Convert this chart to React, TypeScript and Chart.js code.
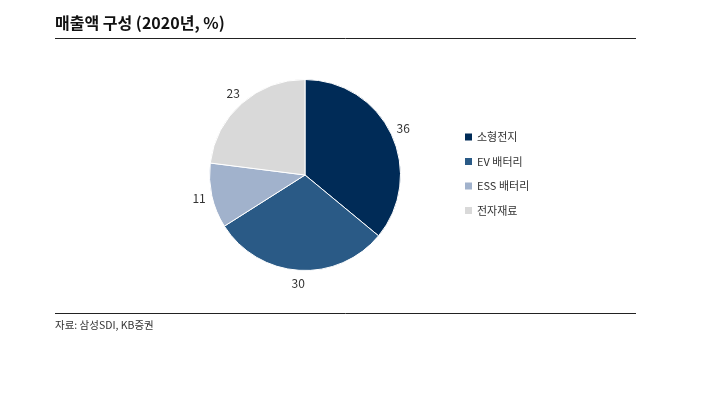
import React, { useEffect, useRef } from "react";
import { Chart, registerables } from "chart.js";

Chart.register(...registerables);

const categories = ["소형전지", "EV 배터리", "ESS 배터리", "전자재료"];
const values = [36, 30, 11, 23];
const colors = ["#002B57", "#2A5A86", "#A1B2CC", "#D9D9D9"];
const titleText = "매출액 구성 (2020년, %)";
const sourceText = "자료: 삼성SDI, KB증권";

const FONT = "'Noto Sans CJK KR', 'Noto Sans', sans-serif";

const decor = {
  id: "decor",
  afterDraw(chart: any) {
    const ctx = chart.ctx as CanvasRenderingContext2D;
    ctx.save();
    // title
    ctx.fillStyle = "#111";
    ctx.font = `bold 16px ${FONT}`;
    ctx.textBaseline = "alphabetic";
    ctx.textAlign = "left";
    ctx.fillText(titleText, 55, 29);
    // lines
    ctx.strokeStyle = "#222";
    ctx.lineWidth = 1;
    ctx.beginPath();
    ctx.moveTo(55, 38.5);
    ctx.lineTo(636, 38.5);
    ctx.moveTo(55, 313.5);
    ctx.lineTo(636, 313.5);
    ctx.stroke();
    // source
    ctx.fillStyle = "#333";
    ctx.font = `10.5px ${FONT}`;
    ctx.textBaseline = "middle";
    ctx.fillText(sourceText, 55, 325);
    // data labels
    const meta = chart.getDatasetMeta(0);
    ctx.font = `12px ${FONT}`;
    ctx.fillStyle = "#333";
    ctx.textAlign = "center";
    ctx.textBaseline = "middle";
    meta.data.forEach((arc: any, i: number) => {
      const mid = (arc.startAngle + arc.endAngle) / 2;
      const r = arc.outerRadius + 13;
      const x = arc.x + Math.cos(mid) * r;
      const y = arc.y + Math.sin(mid) * r;
      ctx.fillText(String(values[i]), x, y);
    });
    // legend
    ctx.textAlign = "left";
    ctx.font = `11px ${FONT}`;
    categories.forEach((c, i) => {
      const y = 137 + i * 24.5;
      ctx.fillStyle = colors[i];
      ctx.fillRect(465, y - 3.5, 7, 7);
      ctx.fillStyle = "#333";
      ctx.fillText(c, 477, y);
    });
    ctx.restore();
  },
};

export default function App() {
  const ref = useRef<HTMLCanvasElement>(null);
  useEffect(() => {
    document.body.style.margin = "0";
    const chart = new Chart(ref.current!, {
      type: "pie",
      data: {
        labels: categories,
        datasets: [
          {
            data: values,
            backgroundColor: colors,
            borderColor: "#ffffff",
            borderWidth: 1,
          },
        ],
      },
      options: {
        responsive: false,
        animation: false,
        layout: { padding: { left: 209, right: 318, top: 79, bottom: 122 } },
        plugins: { legend: { display: false }, tooltip: { enabled: false } },
      },
      plugins: [decor],
    });
    return () => chart.destroy();
  }, []);
  return (
    <div style={{ width: 719, height: 393, background: "#fff" }}>
      <canvas ref={ref} width={719} height={393} style={{ display: "block" }} />
    </div>
  );
}
